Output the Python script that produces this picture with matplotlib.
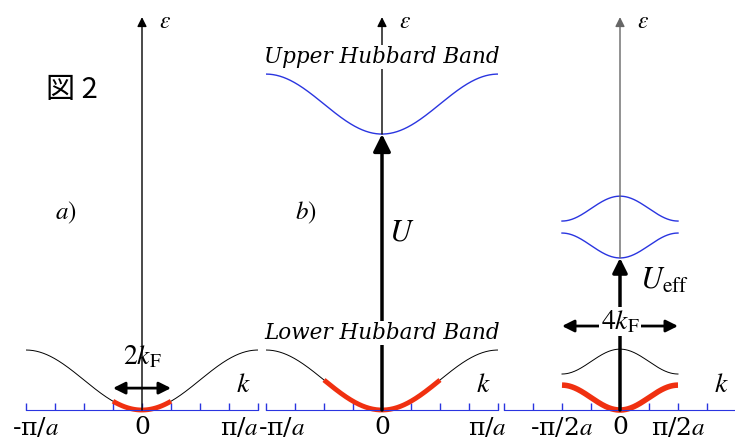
import numpy as np
import matplotlib.pyplot as plt
import matplotlib.transforms as mtransforms

plt.rcParams['mathtext.fontset'] = 'stix'
plt.rcParams['font.family'] = ['DejaVu Serif']

# energies in units of t (band bottom = 0), k in units of pi/a
band_width = 2.0          # full width of the cosine band
U = 9.2                   # Hubbard U (panel b)
kF = [0.25, 0.5]          # filled region, panels a and b
sub_bottoms = [0.0, 1.2, 5.07, 6.3]   # panel c sub-bands (lowest energy)
sub_width = 0.83
sub_peak_at_center = [False, True, False, True]
sub_colors = ['fill', 'black', 'blue', 'blue']
U_eff = 5.07
eps_top = 13.1

tick_labels_ab = ['-π/$a$', '0', 'π/$a$']
tick_pos_ab = [-1, 0, 1]
tick_labels_c = ['-π/2$a$', '0', 'π/2$a$']
tick_pos_c = [-0.5, 0, 0.5]

blue = '#2a35e0'
red = '#f03010'

k = np.linspace(-1, 1, 401)
kc = np.linspace(-0.5, 0.5, 201)

fig = plt.figure(figsize=(7.35, 4.43), dpi=100)
lefts = [26, 266, 504]
axes = [fig.add_axes([l / 735, 0, 232 / 735, 1]) for l in lefts]


def k_axis(ax, ticks, labels, shifts):
    ax.set_xlim(-1, 1)
    ax.set_ylim(-1.1, 13.67)
    ax.patch.set_visible(False)
    for s in ['top', 'right', 'left']:
        ax.spines[s].set_visible(False)
    ax.spines['bottom'].set_position(('data', 0))
    ax.spines['bottom'].set_color(blue)
    ax.set_yticks([])
    ax.set_xticks(ticks, labels)
    ax.set_xticks(np.arange(-1, 1.01, 0.25), minor=True)
    ax.tick_params(axis='x', which='both', direction='in', length=5,
                   color=blue, width=1)
    ax.tick_params(axis='x', labelsize=18, pad=4)
    for lab, dx in zip(ax.get_xticklabels(), shifts):
        lab.set_transform(lab.get_transform() +
                          mtransforms.ScaledTranslation(dx / 100, 0,
                                                        fig.dpi_scale_trans))
    ax.text(0.87, 0.85, '$k$', fontsize=20, ha='center', va='center')


def v_arrow(ax, y0, y1, lw=1.0, color='k', scale=14):
    ax.annotate('', xy=(0, y1), xytext=(0, y0),
                arrowprops=dict(arrowstyle='-|>', lw=lw, color=color,
                                mutation_scale=scale, shrinkA=0, shrinkB=0),
                zorder=4)


def band(kk):
    return band_width / 2 * (1 - np.cos(np.pi * kk))


box = dict(facecolor='white', edgecolor='none', pad=1)

# ---- a) ----
ax = axes[0]
k_axis(ax, tick_pos_ab, tick_labels_ab, [10, 0, -19])
v_arrow(ax, 0, eps_top)
ax.plot(k, band(k), color='k', lw=0.7)
m = np.abs(k) <= kF[0]
ax.plot(k[m], band(k[m]), color=red, lw=3.5, solid_capstyle='butt')
ax.annotate('', xy=(-kF[0], 0.73), xytext=(kF[0], 0.73),
            arrowprops=dict(arrowstyle='<|-|>', lw=2, color='k',
                            mutation_scale=18, shrinkA=0, shrinkB=0))
ax.text(0, 1.78, r'$2k_{\mathrm{F}}$', fontsize=20, ha='center', va='center')
ax.text(0.15, 12.95, r'$\varepsilon$', fontsize=17, ha='left', va='center')
ax.text(-0.655, 6.57, r'$a)$', fontsize=18, ha='center', va='center')
ax.text(-0.6, 10.67, '図 2', fontsize=21, ha='center', va='center',
        family=['Noto Sans CJK JP', 'DejaVu Sans'])

# ---- b) ----
ax = axes[1]
k_axis(ax, tick_pos_ab, tick_labels_ab, [16, 0, -11])
v_arrow(ax, U, eps_top)
v_arrow(ax, 0, U, lw=2.5, scale=26)
ax.plot(k, band(k), color='k', lw=0.7)
m = np.abs(k) <= kF[1]
ax.plot(k[m], band(k[m]), color=red, lw=3.5, solid_capstyle='butt')
ax.plot(k, U + band(k), color=blue, lw=1.0)
ax.text(0, 2.57, 'Lower Hubbard Band', fontsize=15.5, style='italic',
        ha='center', va='center', bbox=box, zorder=5)
ax.text(0, 11.77, 'Upper Hubbard Band', fontsize=15.5, style='italic',
        ha='center', va='center', bbox=box, zorder=5)
ax.text(0.15, 12.95, r'$\varepsilon$', fontsize=17, ha='left', va='center')
ax.text(0.17, 5.93, r'$U$', fontsize=22, ha='center', va='center')
ax.text(-0.66, 6.57, r'$b)$', fontsize=18, ha='center', va='center')

# ---- c) ----
ax = axes[2]
k_axis(ax, tick_pos_c, tick_labels_c, [0, 0, 0])
v_arrow(ax, U_eff, eps_top, color='#666666')
v_arrow(ax, 0, U_eff, lw=2.5, scale=22)
for bot, peak, col in zip(sub_bottoms, sub_peak_at_center, sub_colors):
    shape = sub_width / 2 * (1 - np.cos(2 * np.pi * kc))
    e = bot + sub_width - shape if peak else bot + shape
    if col == 'fill':
        ax.plot(kc, e, color=red, lw=4, solid_capstyle='butt')
    else:
        ax.plot(kc, e, color='k' if col == 'black' else blue,
                lw=0.7 if col == 'black' else 1.0)
ax.annotate('', xy=(-0.5, 2.8), xytext=(0.5, 2.8),
            arrowprops=dict(arrowstyle='<|-|>', lw=2, color='k',
                            mutation_scale=18, shrinkA=0, shrinkB=0))
ax.text(0, 2.95, r'$4k_{\mathrm{F}}$', fontsize=20, ha='center', va='center',
        bbox=box, zorder=5)
ax.text(0.17, 4.33, r'$U_{\mathrm{eff}}$', fontsize=22, ha='left', va='center')
ax.text(0.15, 12.95, r'$\varepsilon$', fontsize=17, ha='left', va='center')

fig.savefig('out.png', dpi=100, facecolor='white')
